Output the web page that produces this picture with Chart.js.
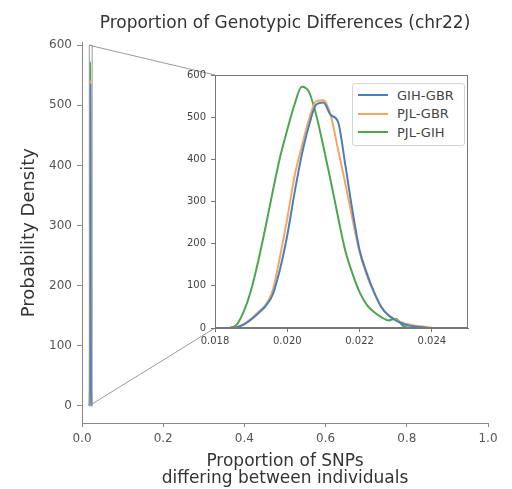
<!DOCTYPE html>
<html>
<head>
<meta charset="utf-8">
<script src="https://cdn.jsdelivr.net/npm/chart.js@4/dist/chart.umd.min.js"></script>
<style>
  body { margin: 0; background: #fff; }
  #wrap { position: relative; width: 512px; height: 489px; }
  #main { position: absolute; left: 0; top: 0; }
  #insetBox { position: absolute; left: 175px; top: 60px; width: 305px; height: 295px; }
  #legend {
    position: absolute; left: 352px; top: 83px; width: 113px; height: 63px;
    border: 1px solid #d4d4d4; border-radius: 3px; background: #fff;
    font-family: "DejaVu Sans", sans-serif; font-size: 13px; color: #444;
    box-sizing: border-box; padding-top: 2px;
  }
  .row { height: 18.5px; display: flex; align-items: center; }
  .swatch { width: 30px; height: 0; border-top: 2px solid; margin-left: 5px; margin-right: 9px; }
</style>
</head>
<body>
<div id="wrap">
  <canvas id="main" width="512" height="489"></canvas>
  <div id="insetBox"><canvas id="inset" width="305" height="295"></canvas></div>
  <div id="legend"></div>
</div>
<script>
// kde curves, x = proportion of differing SNPs
const xGrid = [0.0184, 0.0186, 0.0188, 0.0190, 0.0192, 0.0194, 0.0196, 0.0198, 0.0200, 0.0202,
               0.0204, 0.0206, 0.0208, 0.0210, 0.0212, 0.0214, 0.0216, 0.0218, 0.0220, 0.0222,
               0.0224, 0.0226, 0.0228, 0.0230, 0.0232, 0.0234, 0.0236, 0.0238, 0.0240];
const gihGbr = [0, 2, 8, 20, 35, 52, 80, 140, 220, 320,
                410, 480, 530, 535, 505, 490, 390, 280, 185, 130,
                85, 50, 30, 18, 10, 5, 3, 1, 0];
const pjlGbr = [0, 2, 10, 22, 38, 55, 90, 170, 260, 360,
                430, 495, 538, 540, 505, 425, 345, 260, 180, 125,
                85, 50, 30, 20, 12, 8, 5, 3, 0];
const pjlGih = [0, 8, 40, 90, 160, 240, 325, 405, 470, 530,
                572, 560, 505, 430, 350, 265, 185, 130, 85, 55,
                38, 26, 18, 22, 5, 0, 0, 0, 0];
const seriesNames = ["GIH-GBR", "PJL-GBR", "PJL-GIH"];
const seriesColors = ["#4a7fbd", "#f6a662", "#4ea54e"];

const mainXTicks = [0, 0.2, 0.4, 0.6, 0.8, 1.0];
const densityTicks = [0, 100, 200, 300, 400, 500, 600];
const insetXTicks = [0.018, 0.020, 0.022, 0.024];

Chart.defaults.font.family = "DejaVu Sans";
Chart.defaults.animation = false;

const insetLeft = 175, insetTop = 60;

function makeDatasets(width) {
    return [gihGbr, pjlGbr, pjlGih].map((arr, i) => ({
        label: seriesNames[i],
        data: xGrid.map((x, j) => ({ x: x, y: arr[j] })),
        borderColor: seriesColors[i],
        borderWidth: width,
        pointRadius: 0,
        cubicInterpolationMode: "monotone",
        fill: false
    }));
}

const boxPlugin = {
    id: "box",
    afterDraw(chart) {
        const a = chart.chartArea, ctx = chart.ctx;
        ctx.save();
        ctx.strokeStyle = "#777";
        ctx.lineWidth = 1;
        ctx.strokeRect(a.left + 0.5, a.top + 0.5, a.right - a.left - 1, a.bottom - a.top - 1);
        ctx.restore();
    }
};

const inset = new Chart(document.getElementById("inset"), {
    type: "line",
    data: { datasets: makeDatasets(2) },
    options: {
        responsive: false,
        layout: { padding: { right: 12, top: 15 } },
        plugins: { legend: { display: false }, tooltip: { enabled: false } },
        scales: {
            x: {
                type: "linear", min: 0.018, max: 0.025,
                afterBuildTicks: s => { s.ticks = insetXTicks.map(v => ({ value: v })); },
                afterFit: s => { s.height = 27; },
                ticks: { callback: v => v.toFixed(3), color: "#444", font: { size: 10 }, padding: 3, maxRotation: 0, autoSkip: false },
                grid: { drawOnChartArea: false, tickLength: 4, tickColor: "#777" },
                border: { color: "#777" }
            },
            y: {
                min: 0, max: 600,
                afterBuildTicks: s => { s.ticks = densityTicks.map(v => ({ value: v })); },
                afterFit: s => { s.width = 40; },
                ticks: { color: "#444", font: { size: 10 }, padding: 5 },
                grid: { drawOnChartArea: false, tickLength: 4, tickColor: "#777" },
                border: { color: "#777" }
            }
        }
    },
    plugins: [boxPlugin]
});

// legend inside the inset
const legend = document.getElementById("legend");
seriesNames.forEach((name, i) => {
    legend.innerHTML += `<div class="row"><span class="swatch" style="border-color:${seriesColors[i]}"></span>${name}</div>`;
});

// zoom rectangle + connector lines to the inset corners
const connectors = {
    id: "connectors",
    afterDatasetsDraw(chart) {
        const xs = chart.scales.x, ys = chart.scales.y, ctx = chart.ctx;
        const ia = inset.chartArea;
        const x0 = xs.getPixelForValue(0.018), x1 = xs.getPixelForValue(0.025);
        const yTop = ys.getPixelForValue(600), yBot = ys.getPixelForValue(0);
        ctx.save();
        ctx.strokeStyle = "#9a9a9a";
        ctx.lineWidth = 1;
        ctx.strokeRect(x0, yTop, x1 - x0, yBot - yTop);
        ctx.beginPath();
        ctx.moveTo(x0, yTop);
        ctx.lineTo(insetLeft + ia.left, insetTop + ia.top);
        ctx.moveTo(x0, yBot);
        ctx.lineTo(insetLeft + ia.left, insetTop + ia.bottom);
        ctx.stroke();
        ctx.restore();
    }
};

new Chart(document.getElementById("main"), {
    type: "line",
    data: { datasets: makeDatasets(1.5) },
    options: {
        responsive: false,
        layout: { padding: { right: 24 } },
        plugins: {
            legend: { display: false },
            tooltip: { enabled: false },
            title: {
                display: true, fullSize: false,
                text: "Proportion of Genotypic Differences (chr22)",
                color: "#333", font: { size: 17, weight: "normal" },
                padding: { top: 13, bottom: 9 }
            }
        },
        scales: {
            x: {
                type: "linear", min: 0, max: 1,
                afterBuildTicks: s => { s.ticks = mainXTicks.map(v => ({ value: v })); },
                afterFit: s => { s.height = 66; },
                ticks: { callback: v => v.toFixed(1), color: "#555", font: { size: 12 }, padding: 5, maxRotation: 0, autoSkip: false },
                grid: { drawOnChartArea: false, tickLength: 4, tickColor: "#888" },
                border: { color: "#888" },
                title: {
                    display: true, color: "#333",
                    text: ["Proportion of SNPs", "differing between individuals"],
                    font: { size: 17, lineHeight: 1.0 },
                    padding: { top: 0, bottom: 2 }
                }
            },
            y: {
                min: -28.8, max: 604.8,
                afterBuildTicks: s => { s.ticks = densityTicks.map(v => ({ value: v })); },
                afterFit: s => { s.width = 82; },
                ticks: { color: "#555", font: { size: 12 }, padding: 5 },
                grid: { drawOnChartArea: false, tickLength: 5, tickColor: "#888" },
                border: { color: "#888" },
                title: {
                    display: true, color: "#333", text: "Probability Density",
                    font: { size: 18 }, padding: { top: 19, bottom: 0 }
                }
            }
        }
    },
    plugins: [connectors]
});
</script>
</body>
</html>
